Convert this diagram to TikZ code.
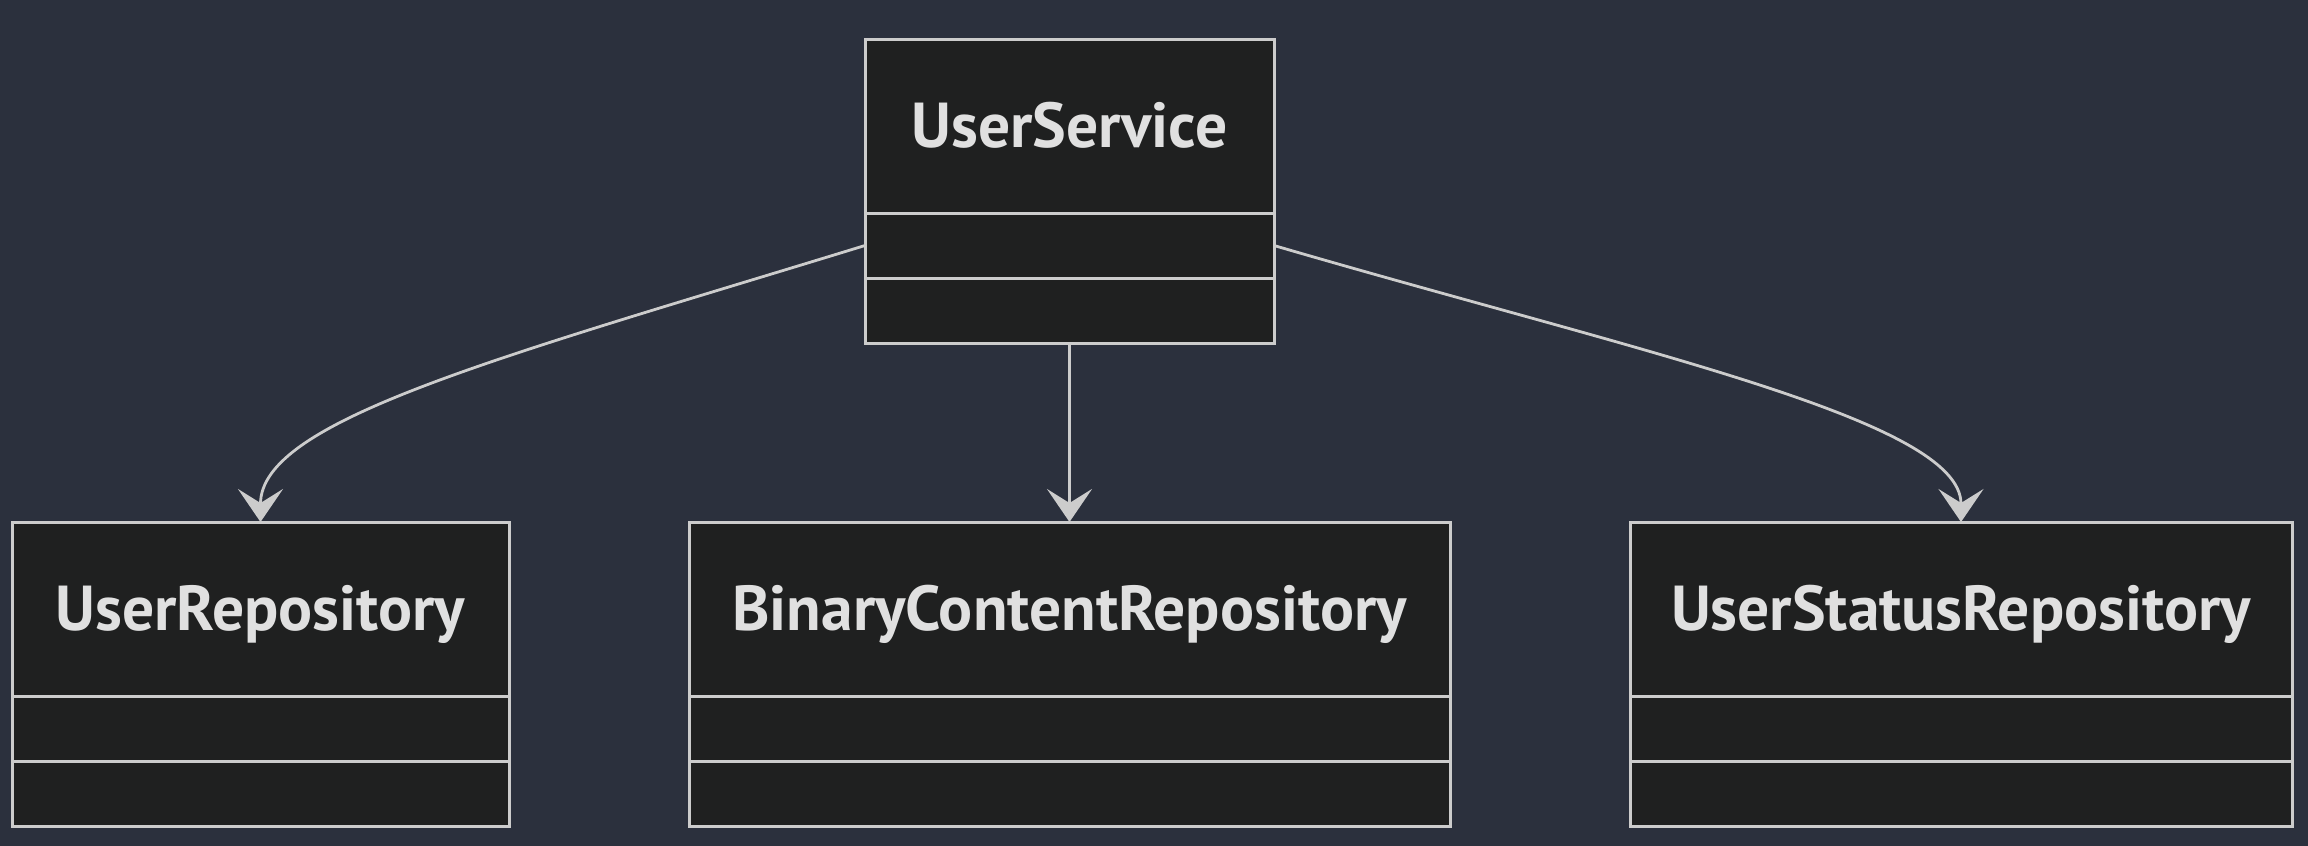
\documentclass[tikz,border=0pt]{standalone}
\usepackage{fontspec}
\setmainfont{PT Sans}
\usetikzlibrary{positioning,arrows.meta}
\definecolor{bgcol}{HTML}{2B303D}
\definecolor{boxcol}{HTML}{1F2020}
\definecolor{linecol}{HTML}{CCCCCC}
\definecolor{textcol}{HTML}{E0E0E0}

\begin{document}
\begin{tikzpicture}[x=1pt,y=-1pt,
  classtitle/.style={rectangle,draw=linecol,fill=boxcol,line width=3pt,outer sep=0pt,
    minimum height=174pt,text=textcol,text height=43pt,text depth=0pt,
    font=\fontsize{63.5}{72}\selectfont\bfseries},
  classpart/.style={rectangle,draw=linecol,fill=boxcol,line width=3pt,outer sep=0pt,
    minimum height=65pt},
  dep/.style={draw=linecol,line width=2.8pt,
    -{Stealth[length=33pt,width=45pt,inset=14pt,fill=linecol]}}]
%background
\fill[bgcol] (0,0) rectangle (2308,846);
\useasboundingbox (0,0) rectangle (2308,846);
%UserService
\node[classtitle,minimum width=409pt] (svc) at (1069.5,126) {UserService};
\node[classpart,minimum width=409pt,below=0pt of svc] (svcattr) {};
\node[classpart,minimum width=409pt,below=0pt of svcattr] (svcmeth) {};
%UserRepository
\node[classtitle,minimum width=497pt] (urepo) at (260.5,609) {UserRepository};
\node[classpart,minimum width=497pt,below=0pt of urepo] (urepoattr) {};
\node[classpart,minimum width=497pt,below=0pt of urepoattr] (urepometh) {};
%BinaryContentRepository
\node[classtitle,minimum width=761pt] (brepo) at (1069.5,609) {BinaryContentRepository};
\node[classpart,minimum width=761pt,below=0pt of brepo] (brepoattr) {};
\node[classpart,minimum width=761pt,below=0pt of brepoattr] (brepometh) {};
%UserStatusRepository
\node[classtitle,minimum width=662pt] (srepo) at (1961,609) {UserStatusRepository};
\node[classpart,minimum width=662pt,below=0pt of srepo] (srepoattr) {};
\node[classpart,minimum width=662pt,below=0pt of srepoattr] (srepometh) {};
%dependencies
\draw[dep] (svcattr.west) .. controls +(-365,112) and +(0,-102) .. (urepo.north);
\draw[dep] (svcmeth.south) -- (brepo.north);
\draw[dep] (svcattr.east) .. controls +(366,107) and +(0,-102) .. (srepo.north);
\end{tikzpicture}
\end{document}
